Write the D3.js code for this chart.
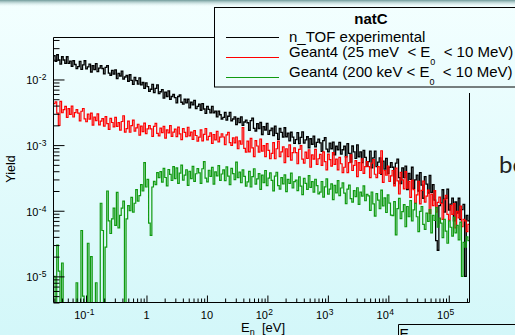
<!DOCTYPE html>
<html><head><meta charset="utf-8">
<script src="https://cdn.jsdelivr.net/npm/d3@7"></script>
<style>html,body{margin:0;padding:0;overflow:hidden;background:#e8fcfc}
text{font-family:"Liberation Sans",Arial,Helvetica,sans-serif}</style>
</head><body><svg id="c" width="515" height="335"></svg>
<script>
// ---- data ----
const energyRange = [0.029, 2.2e5];      // eV, x axis (log)
const yieldRange  = [4e-6, 0.0436];      // y axis (log)
const UNIT = 1e-6;                       // series values below are yield x 1e6
// n_TOF experimental (black), bins equally spaced in log(E) over energyRange
const nTOFexp = [
23000,18900,23800,19800,17100,22200,19800,17600,22200,17600,19100,15800,19300,16900,14600,
15700,18900,14300,16700,19300,14500,15600,17100,13000,16300,14100,17400,13200,14900,16200,
14700,12200,15300,16200,12500,11600,13800,12100,14000,10300,12400,11300,13400,10100,10900,
11500,9400,11800,9700,8400,10800,9600,8500,10600,8300,9000,7300,8900,7800,6600,
7100,8400,6300,7300,8300,6100,6500,7000,5200,6400,5500,6700,5000,5500,5900,
5300,4400,5500,5800,4500,4200,5000,4400,5000,3700,4500,4100,4800,3600,3900,
4200,3400,4300,3550,3050,3900,3500,3100,3900,3100,3300,2700,3300,2900,2500,
2650,3150,2400,2750,3150,2350,2500,2700,2050,2550,2200,2700,2000,2250,2400,
2190,1680,2360,2580,1800,1640,2120,1790,2210,1450,1910,1700,2150,1460,1670,
1820,1390,1940,1510,1220,1790,1560,1330,1840,1340,1520,1160,1570,1320,1060,
1210,1550,1050,1310,1590,1070,1200,1340,910,1250,1030,1370,940,1100,1230,
1080,800,1170,1300,870,790,1070,880,1110,710,960,850,1100,730,850,
960,660,1050,750,550,970,790,630,1010,660,790,540,830,650,480,
560,810,450,640,810,470,550,640,360,570,430,630,370,460,540,
460,260,530,610,320,260,450,320,480,210,370,300,460,220,295,
350,200,380,245,155,330,255,185,345,190,250,145,35,25,120,
131,209,95,154,213,102,126,156,70,136,92,155,73,104,125,
10,85,70];
// Geant4 (25 meV < E0 < 10 MeV) (red)
const g4Full = [
4300,4570,3080,2000,4650,3110,3470,3900,2640,3600,2940,3920,2680,3120,3480,
3070,2340,3280,3610,2510,2270,2970,2490,3070,2020,2660,2360,3000,2040,2320,
2540,1950,2720,2130,1740,2550,2210,1900,2640,1930,2200,1690,2290,2800,1580,
1780,2320,1570,1980,2410,1630,1830,2080,1420,1950,1610,2170,1500,1770,1990,
1770,1360,1930,2140,1510,1380,1820,1550,1930,1280,1710,1540,1980,1360,1580,
1750,1350,1880,1480,1210,1780,1560,1340,1870,1380,1580,1220,1660,1400,1150,
1320,1710,1160,1460,1790,1200,1360,1540,1060,1450,1200,1620,1120,1320,1490,
1330,1020,1430,1560,1090,990,1290,1080,1330,880,1160,1030,1850,890,780,
1150,790,1270,910,670,1170,970,780,1240,810,980,670,1050,830,620,
750,1090,620,880,1150,670,790,940,540,880,670,1010,590,770,910,
770,520,860,980,610,530,780,630,850,460,710,610,860,510,620,
720,490,790,560,420,730,600,480,770,510,610,420,650,520,380,
460,670,380,540,710,410,490,580,330,540,410,620,370,470,560,
470,320,530,600,360,320,470,370,820,270,410,350,480,280,340,
410,240,445,285,180,385,295,215,395,220,280,160,290,210,130,
175,280,127,205,283,135,167,206,91,179,120,203,95,134,161,
129,74,147,171,88,72,121,88,128,55,98,78,118,57,74,
70,48,62];
// Geant4 (200 keV < E0 < 10 MeV) (green); 0 = empty bin
const g4High = [
10,0,30,12,0,16,0,0,0,0,0,0,0,0,8,
0,0,50,5,0,0,32,0,20,0,0,8,0,0,130,
50,0,28,200,70,45,75,110,60,190,55,85,110,140,0,
75,120,100,160,95,130,210,140,170,250,200,540,230,300,65,
42,230,280,250,380,320,395,272,443,321,240,425,357,289,470,
308,450,261,375,497,292,349,421,243,400,308,473,280,366,438,
378,262,436,560,313,276,414,334,457,254,392,341,486,290,363,
418,288,466,336,250,442,369,297,550,318,387,267,419,334,238,
275,398,230,330,436,255,305,367,212,348,267,410,242,315,378,
291,201,336,386,241,213,319,257,352,195,301,262,374,222,278,
292,202,328,237,176,312,262,212,343,227,277,192,302,242,181,
192,279,161,231,305,179,214,257,148,244,187,288,170,222,266,
185,128,214,246,153,135,203,164,224,125,192,167,239,142,178,
168,101,193,127,83,182,145,108,206,119,157,94,175,131,86,
84,138,43,108,154,76,97,124,57,116,81,143,70,103,130,
81,48,98,116,62,52,92,69,104,46,85,71,112,56,77,
65,39,74,49,32,70,56,41,79,46,60,36,67,10,33,
28,40,35];
const xMajorExps = [-1,0,1,2,3,4,5];
const yMajorExps = [-5,-4,-3,-2];
const legendTitle = "natC";
const seriesNames = ["n_TOF experimental","Geant4 (25 meV  < E","Geant4 (200 keV < E"];
const seriesColors = ["#000000","#ff0000","#109a10"];
const xTitle = "E", xTitleSub = "n", xTitleUnit = "  [eV]";
const yTitle = "Yield";

// ---- drawing ----
const svg = d3.select("#c");
const W = 515, H = 335;
const L = 53.5, R = 469.5, T = 37.5, B = 302.5;
const defs = svg.append("defs");
const bg = defs.append("linearGradient").attr("id","bg").attr("x1",0).attr("y1",0).attr("x2",0).attr("y2",1);
bg.append("stop").attr("offset","0%").attr("stop-color","#f3ffff");
bg.append("stop").attr("offset","100%").attr("stop-color","#d3f7f9");
const tb = defs.append("linearGradient").attr("id","tb").attr("x1",0).attr("y1",0).attr("x2",0).attr("y2",1);
tb.append("stop").attr("offset","0%").attr("stop-color","#6f9a9a").attr("stop-opacity",1);
tb.append("stop").attr("offset","100%").attr("stop-color","#f3ffff").attr("stop-opacity",0);
defs.append("clipPath").attr("id","clip").append("rect").attr("x",L).attr("y",T).attr("width",R-L).attr("height",B-T+2);

svg.append("rect").attr("width",W).attr("height",H).attr("fill","url(#bg)");
svg.append("rect").attr("width",W).attr("height",7).attr("fill","url(#tb)");

const x = d3.scaleLog().domain(energyRange).range([L,R]);
const y = d3.scaleLog().domain(yieldRange).range([B,T]);

// histograms
const n = nTOFexp.length;
const lo = Math.log10(energyRange[0]), hi = Math.log10(energyRange[1]);
const edges = d3.range(n+1).map(i => Math.pow(10, lo + i*(hi-lo)/n));
const line = d3.line()
  .x(d => x(d[0]))
  .y(d => y(Math.min(Math.max(d[1], yieldRange[0]), yieldRange[1])))
  .curve(d3.curveStepAfter);
const plotG = svg.append("g").attr("clip-path","url(#clip)");
[[nTOFexp,0,1.3],[g4Full,1,1.2],[g4High,2,1.2]].forEach(([vals,ci,sw]) => {
  const pts = vals.map((v,i) => [edges[i], v*UNIT]);
  pts.push([edges[vals.length], vals[vals.length-1]*UNIT]);
  plotG.append("path").attr("d", line(pts)).attr("fill","none")
    .attr("stroke", seriesColors[ci]).attr("stroke-width", sw);
});

// axes (ticks inward)
const isMajor = v => Math.abs(Math.log10(v) - Math.round(Math.log10(v))) < 1e-9;
const xMinor = x.ticks().filter(v => !isMajor(v));
const xMajor = xMajorExps.map(e => Math.pow(10,e));
const yMinor = y.ticks().filter(v => !isMajor(v));
const yMajor = yMajorExps.map(e => Math.pow(10,e));
function styleAxis(g){ g.select(".domain").remove(); g.selectAll("line").attr("stroke","#000").attr("stroke-width",1); g.selectAll("text").remove(); }
svg.append("g").attr("transform",`translate(0,${B})`).call(d3.axisBottom(x).tickValues(xMinor).tickSize(-4).tickFormat("")).call(styleAxis);
svg.append("g").attr("transform",`translate(0,${B})`).call(d3.axisBottom(x).tickValues(xMajor).tickSize(-7).tickFormat("")).call(styleAxis);
svg.append("g").attr("transform",`translate(${L},0)`).call(d3.axisLeft(y).tickValues(yMinor).tickSize(-6).tickFormat("")).call(styleAxis);
svg.append("g").attr("transform",`translate(${L},0)`).call(d3.axisLeft(y).tickValues(yMajor).tickSize(-11).tickFormat("")).call(styleAxis);

// frame
const fr = svg.append("g").attr("stroke","#000").attr("stroke-width",1).attr("fill","none");
fr.append("line").attr("x1",L).attr("x2",L).attr("y1",T).attr("y2",B);
fr.append("line").attr("x1",L).attr("x2",R).attr("y1",B).attr("y2",B);
fr.append("line").attr("x1",L).attr("x2",214.5).attr("y1",T).attr("y2",T);
fr.append("line").attr("x1",R).attr("x2",R).attr("y1",93).attr("y2",B);

// tick labels
const lab = svg.append("g").attr("fill","#000");
xMajorExps.forEach(e => {
  const px = x(Math.pow(10,e));
  if (e === 0 || e === 1) {
    lab.append("text").attr("x",px).attr("y",319).attr("text-anchor","middle").attr("font-size",11).text(e===0?"1":"10");
  } else {
    lab.append("text").attr("x",px+0.5).attr("y",319).attr("text-anchor","end").attr("font-size",11).text("10");
    lab.append("text").attr("x",px+0.8).attr("y",314.5).attr("text-anchor","start").attr("font-size",8.5).text(String(e));
  }
});
yMajorExps.forEach(e => {
  const py = y(Math.pow(10,e));
  lab.append("text").attr("x",38.5).attr("y",py+5).attr("text-anchor","end").attr("font-size",11).text("10");
  lab.append("text").attr("x",38.8).attr("y",py+1).attr("text-anchor","start").attr("font-size",8.5).text(String(e));
});

// axis titles
const xt = svg.append("text").attr("x",241).attr("y",331.5).attr("font-size",13).attr("xml:space","preserve");
xt.append("tspan").text(xTitle);
xt.append("tspan").attr("font-size",9).attr("dy",3).text(xTitleSub);
xt.append("tspan").attr("dy",-3).text(xTitleUnit);
svg.append("text").attr("transform","translate(15,169) rotate(-90)").attr("text-anchor","middle").attr("font-size",12.5).text(yTitle);

// legend
svg.append("rect").attr("x",214.5).attr("y",7.5).attr("width",400).attr("height",79.5).attr("fill","none").attr("stroke","#000").attr("stroke-width",1);
svg.append("text").attr("x",371).attr("y",24).attr("text-anchor","middle").attr("font-size",15).attr("font-weight","bold").text(legendTitle);
const rowY = [37.5, 57.5, 77.5];
const baseY = [41.5, 57, 77];
seriesNames.forEach((s,i) => {
  svg.append("line").attr("x1",226).attr("x2",279).attr("y1",rowY[i]).attr("y2",rowY[i]).attr("stroke",seriesColors[i]).attr("stroke-width",1);
  const t = svg.append("text").attr("x",289).attr("y",baseY[i]).attr("font-size",15).attr("xml:space","preserve").style("white-space","pre");
  t.append("tspan").text(s);
  if (i > 0) {
    t.append("tspan").attr("font-size",9).attr("dy",7.5).text("0");
    t.append("tspan").attr("dy",-7.5).text("  < 10 MeV)");
  }
});

// slide fragments around the chart
svg.append("text").attr("x",499).attr("y",173).attr("font-size",24).attr("fill","#222")
  .style("font-family","Lato, 'Open Sans', sans-serif").text("be");
svg.append("path").attr("d","M398.5,335 V324.5 H515").attr("fill","none").attr("stroke","#000").attr("stroke-width",1);
svg.append("text").attr("x",399.5).attr("y",339).attr("font-size",14).text("E");
</script></body></html>
